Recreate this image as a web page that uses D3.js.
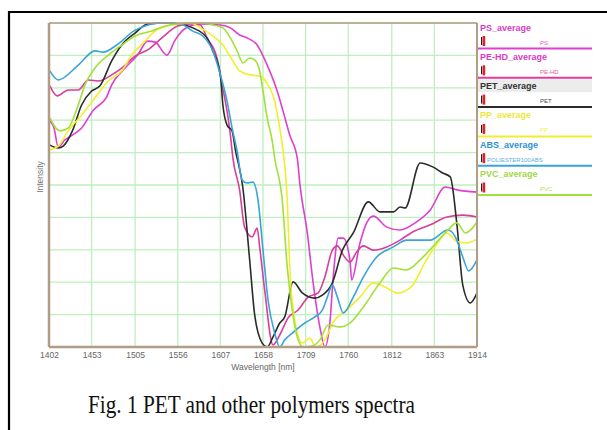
<!DOCTYPE html>
<html>
<head>
<meta charset="utf-8">
<script src="https://cdn.jsdelivr.net/npm/d3@7"></script>
<style>
  body { margin: 0; background: #fff; }
  svg { display: block; }
</style>
</head>
<body>
<div class="chart"></div>
<script>
// wavelength ticks [nm]
const xTicks = [1402, 1453, 1505, 1556, 1607, 1658, 1709, 1760, 1812, 1863, 1914];

// legend entries
const names = ["PS_average", "PE-HD_average", "PET_average", "PP_average", "ABS_average", "PVC_average"];
const subLabels = ["PS", "PE-HD", "PET", "PP", "POLIESTER100ABS", "PVC"];

// spectra: [wavelength, normalised intensity]
const ps = [[1403,.698],[1408,.676],[1413,.617],[1421,.639],[1430,.654],[1441,.676],[1455,.731],[1471,.772],
  [1477,.809],[1493,.861],[1508,.901],[1520,.944],[1529,.941],[1543,.901],[1553,.948],[1561,.975],[1571,.991],
  [1583,.997],[1607,.994],[1619,.985],[1630,.963],[1639,.954],[1651,.932],[1663,.870],[1675,.790],[1682,.728],
  [1690,.654],[1699,.583],[1702,.506],[1711,.352],[1718,.198],[1726,.062],[1732,0],[1738,.074],[1742,.216],
  [1748,.336],[1754,.336],[1762,.269],[1764,.207],[1774,.321],[1782,.383],[1790,.404],[1806,.370],[1822,.361],
  [1840,.383],[1858,.423],[1876,.494],[1890,.485],[1914,.478]];

const pehd = [[1403,.806],[1412,.775],[1425,.793],[1437,.793],[1449,.824],[1461,.821],[1477,.840],[1489,.861],
  [1505,.898],[1520,.917],[1537,.954],[1556,.991],[1571,.997],[1583,.994],[1591,.954],[1603,.892],[1609,.809],
  [1615,.728],[1619,.654],[1622,.583],[1630,.485],[1636,.370],[1645,.340],[1651,.367],[1654,.309],[1660,.176],
  [1670,.006],[1678,.037],[1688,.090],[1700,.114],[1712,.154],[1724,.167],[1732,.216],[1741,.299],[1747,.312],
  [1754,.284],[1762,.262],[1770,.293],[1778,.312],[1790,.299],[1806,.309],[1822,.330],[1837,.355],[1858,.377],
  [1878,.401],[1897,.407],[1914,.401]];

const pet = [[1403,.623],[1413,.614],[1419,.620],[1430,.667],[1441,.747],[1453,.790],[1463,.806],[1477,.883],
  [1489,.932],[1505,.969],[1520,.997],[1541,1],[1559,.997],[1574,.985],[1591,.954],[1598,.914],[1607,.840],
  [1610,.747],[1615,.685],[1621,.667],[1625,.608],[1634,.490],[1642,.270],[1648,.100],[1657,.012],[1663,0],
  [1670,.031],[1678,.074],[1684,.093],[1694,.201],[1705,.167],[1720,.151],[1729,.160],[1741,.198],[1753,.299],
  [1766,.352],[1784,.448],[1798,.417],[1814,.417],[1822,.432],[1828,.429],[1846,.568],[1861,.556],[1873,.537],
  [1882,.525],[1890,.377],[1897,.191],[1906,.136],[1914,.167]];

const pp = [[1402,.608],[1413,.620],[1425,.667],[1441,.716],[1457,.769],[1473,.821],[1489,.852],[1501,.901],
  [1517,.944],[1529,.975],[1549,.994],[1571,1],[1583,.985],[1598,.960],[1610,.932],[1622,.883],[1630,.852],
  [1642,.840],[1654,.836],[1664,.809],[1672,.759],[1678,.676],[1682,.605],[1687,.454],[1690,.247],[1696,.083],
  [1705,.012],[1714,.028],[1721,0],[1732,.022],[1742,.077],[1758,.114],[1774,.154],[1790,.198],[1804,.185],
  [1819,.167],[1835,.185],[1852,.262],[1867,.321],[1878,.352],[1889,.327],[1901,.321],[1914,.333]];

const abs = [[1403,.852],[1413,.824],[1437,.870],[1457,.914],[1467,.910],[1483,.932],[1505,.978],[1517,.991],
  [1535,1],[1559,.997],[1574,.975],[1586,.960],[1598,.914],[1607,.840],[1615,.759],[1621,.676],[1627,.605],
  [1633,.515],[1639,.506],[1646,.509],[1652,.454],[1658,.299],[1664,.145],[1672,.043],[1678,0],[1684,.022],
  [1693,.043],[1708,.074],[1720,.093],[1729,.114],[1735,.154],[1741,.191],[1747,.154],[1754,.105],[1766,.154],
  [1778,.216],[1794,.278],[1814,.309],[1830,.330],[1858,.330],[1879,.361],[1888,.340],[1897,.278],[1904,.235],
  [1914,.269]];

const pvc = [[1403,.707],[1415,.667],[1425,.676],[1437,.747],[1445,.809],[1457,.861],[1473,.901],[1489,.932],
  [1505,.960],[1525,.975],[1541,.991],[1556,.997],[1583,1],[1598,.994],[1610,.985],[1619,.954],[1627,.914],
  [1634,.877],[1642,.892],[1648,.886],[1654,.852],[1658,.790],[1663,.707],[1669,.636],[1672,.583],[1681,.454],
  [1687,.247],[1693,.114],[1699,.031],[1706,0],[1717,.003],[1726,.022],[1736,.068],[1750,.062],[1762,.074],
  [1778,.123],[1798,.198],[1814,.244],[1830,.238],[1846,.269],[1861,.309],[1879,.361],[1890,.383],[1900,.352],
  [1914,.386]];

const series = [ps, pehd, pet, pp, abs, pvc];
const colors = ["#e03ed0", "#dc3c9c", "#2b2b2b", "#f2ee2e", "#3aa4d8", "#a4e03c"];
const titleColors = ["#d83cc4", "#d83cc4", "#333333", "#eee83a", "#2f92cf", "#a2d846"];

const W = 607, H = 430;
const margin = { top: 23, right: 130, bottom: 83, left: 49 };
const width = W - margin.left - margin.right,
  height = H - margin.top - margin.bottom;

const svg = d3.select(".chart")
  .append("svg")
  .attr("width", W)
  .attr("height", H);

// outer black frame (top + left)
svg.append("line").attr("x1", 8).attr("x2", W).attr("y1", 12).attr("y2", 12)
  .attr("stroke", "#000").attr("stroke-width", 2.2);
svg.append("line").attr("x1", 9).attr("x2", 9).attr("y1", 11).attr("y2", H)
  .attr("stroke", "#000").attr("stroke-width", 2.2);

const g = svg.append("g").attr("transform", `translate(${margin.left},${margin.top})`);

const xScale = d3.scaleLinear().domain([1402, 1914]).range([0, width]);
const yScale = d3.scaleLinear().domain([0, 1]).range([height, 0]);

// grid
g.append("g").selectAll("line")
  .data(xTicks)
  .join("line")
  .attr("x1", d => xScale(d)).attr("x2", d => xScale(d))
  .attr("y1", 0).attr("y2", height)
  .attr("stroke", "#bdf0bd").attr("stroke-width", 1.3);

g.append("g").selectAll("line")
  .data(yScale.ticks(10))
  .join("line")
  .attr("x1", 0).attr("x2", width)
  .attr("y1", d => yScale(d)).attr("y2", d => yScale(d))
  .attr("stroke", "#bdf0bd").attr("stroke-width", 1.3);

// spectra
const line = d3.line()
  .x(d => xScale(d[0]))
  .y(d => yScale(d[1]))
  .curve(d3.curveMonotoneX);

g.append("g").selectAll("path")
  .data(series)
  .join("path")
  .attr("fill", "none")
  .attr("stroke", (d, i) => colors[i])
  .attr("stroke-width", 1.6)
  .attr("d", line);

// frame of the plot
const frame = "#b39c84";
g.append("line").attr("x1", 0).attr("x2", width).attr("y1", 0).attr("y2", 0)
  .attr("stroke", frame).attr("stroke-width", 1.5);
g.append("line").attr("x1", width).attr("x2", width).attr("y1", 0).attr("y2", height)
  .attr("stroke", frame).attr("stroke-width", 2);
g.append("line").attr("x1", 0).attr("x2", 0).attr("y1", 0).attr("y2", height)
  .attr("stroke", frame).attr("stroke-width", 2.5);
g.append("line").attr("x1", 0).attr("x2", width).attr("y1", height).attr("y2", height)
  .attr("stroke", frame).attr("stroke-width", 2.5);

// x axis labels
const xAxis = d3.axisBottom(xScale).tickValues(xTicks).tickSize(0).tickPadding(5).tickFormat(d3.format("d"));
const xAxisGraph = g.append("g").attr("transform", `translate(0,${height})`).call(xAxis);
xAxisGraph.select(".domain").remove();
xAxisGraph.selectAll("text")
  .attr("font-family", "Liberation Sans, Arial, sans-serif")
  .attr("font-size", "8.5px")
  .attr("fill", "#666");

g.append("text")
  .attr("x", width / 2)
  .attr("y", height + 23)
  .attr("text-anchor", "middle")
  .attr("font-family", "Liberation Sans, Arial, sans-serif")
  .attr("font-size", "8.5px")
  .attr("fill", "#666")
  .text("Wavelength [nm]");

g.append("text")
  .attr("transform", `translate(-6,${height / 2 - 8}) rotate(-90)`)
  .attr("text-anchor", "middle")
  .attr("font-family", "Liberation Sans, Arial, sans-serif")
  .attr("font-size", "8.5px")
  .attr("fill", "#777")
  .text("Intensity");

// legend
const lx = margin.left + width + 1;
const rowH = 29.3;
const legend = svg.append("g").selectAll("g")
  .data(names)
  .join("g")
  .attr("transform", (d, i) => `translate(${lx},${20 + i * rowH})`);

legend.filter((d, i) => i === 2)
  .append("rect")
  .attr("x", 0).attr("y", 0.5).attr("width", 114).attr("height", 13)
  .attr("fill", "#ececec");

legend.append("text")
  .attr("x", 2).attr("y", 10.5)
  .attr("font-family", "Liberation Sans, Arial, sans-serif")
  .attr("font-size", "9px")
  .attr("font-weight", "bold")
  .attr("fill", (d, i) => titleColors[i])
  .text(d => d);

legend.append("rect")
  .attr("x", 3).attr("y", 17).attr("width", 1.2).attr("height", 8)
  .attr("fill", "#222");
legend.append("rect")
  .attr("x", 4.6).attr("y", 16).attr("width", 2.6).attr("height", 10)
  .attr("fill", "#e0202a");

legend.append("text")
  .attr("x", (d, i) => subLabels[i].length > 6 ? 9 : 62)
  .attr("y", 24.5)
  .attr("font-family", "Liberation Sans, Arial, sans-serif")
  .attr("font-size", "6px")
  .attr("fill", (d, i) => colors[i])
  .attr("opacity", 0.85)
  .text((d, i) => subLabels[i]);

legend.append("line")
  .attr("x1", 0).attr("x2", 114)
  .attr("y1", 28.5).attr("y2", 28.5)
  .attr("stroke", (d, i) => colors[i])
  .attr("stroke-width", 2);

// caption
svg.append("text")
  .attr("x", 88)
  .attr("y", 413)
  .attr("textLength", 327)
  .attr("lengthAdjust", "spacingAndGlyphs")
  .attr("font-family", "Liberation Serif, Times New Roman, serif")
  .attr("font-size", "25px")
  .attr("fill", "#111")
  .text("Fig. 1 PET and other polymers spectra");
</script>
</body>
</html>
